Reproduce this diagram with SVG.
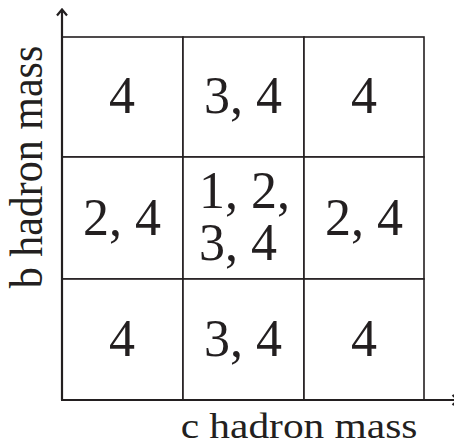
<svg xmlns="http://www.w3.org/2000/svg" width="454" height="444" viewBox="0 0 454 444">
<style>
.cell{fill:#fff;stroke:#231f20;stroke-width:1.6}
.num{font-family:"Liberation Serif","Times New Roman",serif;font-size:52px;fill:#231f20;text-anchor:middle}
.lab{font-family:"Liberation Serif","Times New Roman",serif;fill:#231f20;text-anchor:middle}
.axis{fill:none;stroke:#231f20;stroke-width:2.2}
</style>
<rect x="0" y="0" width="454" height="444" fill="#fff"/>
<g id="cell-top-left"><rect class="cell" x="62" y="37" width="121" height="120"/><text class="num" x="122" y="113">4</text></g>
<g id="cell-top-mid"><rect class="cell" x="183" y="37" width="121" height="120"/><text class="num" x="243" y="113">3, 4</text></g>
<g id="cell-top-right"><rect class="cell" x="304" y="37" width="120" height="120"/><text class="num" x="364" y="113">4</text></g>
<g id="cell-mid-left"><rect class="cell" x="62" y="157" width="121" height="122"/><text class="num" x="122" y="235">2, 4</text></g>
<g id="cell-center"><rect class="cell" x="183" y="157" width="121" height="122"/><text class="num" style="text-anchor:start" x="199" y="208">1, 2,</text><text class="num" style="text-anchor:start" x="199" y="260">3, 4</text></g>
<g id="cell-mid-right"><rect class="cell" x="304" y="157" width="120" height="122"/><text class="num" x="364" y="235">2, 4</text></g>
<g id="cell-bot-left"><rect class="cell" x="62" y="279" width="121" height="121"/><text class="num" x="122" y="356">4</text></g>
<g id="cell-bot-mid"><rect class="cell" x="183" y="279" width="121" height="121"/><text class="num" x="243" y="356">3, 4</text></g>
<g id="cell-bot-right"><rect class="cell" x="304" y="279" width="120" height="121"/><text class="num" x="364" y="356">4</text></g>
<g id="connectors">
<path class="axis" d="M62,400 V10 M57,15.5 L62,9.5 L67,15.5"/>
<path class="axis" d="M61,400 H458 M452.5,395 L458.5,400 L452.5,405"/>
</g>
<g id="labels">
<text class="lab" font-size="36" transform="translate(299,438) scale(1.15,1)" x="0" y="0">c hadron mass</text>
<text class="lab" font-size="42" transform="translate(42,167) rotate(-90) scale(1,1.08)" x="0" y="0">b hadron mass</text>
</g>
</svg>
